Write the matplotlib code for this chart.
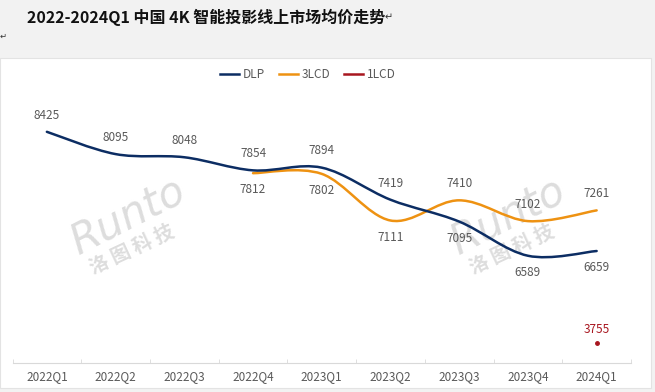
import matplotlib
matplotlib.use("Agg")
import matplotlib.pyplot as plt
from matplotlib.path import Path
from matplotlib.patches import PathPatch, Rectangle
from matplotlib.lines import Line2D

quarters = ["2022Q1", "2022Q2", "2022Q3", "2022Q4", "2023Q1",
            "2023Q2", "2023Q3", "2023Q4", "2024Q1"]
dlp = [8425, 8095, 8048, 7854, 7894, 7419, 7095, 6589, 6659]
lcd3_quarters = quarters[3:]
lcd3 = [7812, 7802, 7111, 7410, 7102, 7261]
lcd1_quarters = ["2024Q1"]
lcd1 = [3755]

# label side: 1 above the line, -1 below
dlp_side = [1, 1, 1, 1, 1, 1, -1, -1, -1]
lcd3_side = [-1, -1, -1, 1, 1, 1]

C_DLP = "#0c2d63"
C_3LCD = "#ee9212"
C_1LCD = "#a8161f"
C_TEXT = "#595959"

plt.rcParams["font.family"] = ["Noto Sans CJK SC", "DejaVu Sans"]


def smooth_path(xs, ys):
    """Excel-like smoothed line as cubic Bezier segments through the points."""
    pts = list(zip(xs, ys))
    verts, codes = [pts[0]], [Path.MOVETO]
    n = len(pts)
    for i in range(n - 1):
        p0, p1 = pts[max(i - 1, 0)], pts[i]
        p2, p3 = pts[i + 1], pts[min(i + 2, n - 1)]
        c1 = (p1[0] + (p2[0] - p0[0]) / 6, p1[1] + (p2[1] - p0[1]) / 6)
        c2 = (p2[0] - (p3[0] - p1[0]) / 6, p2[1] - (p3[1] - p1[1]) / 6)
        verts += [c1, c2, p2]
        codes += [Path.CURVE4] * 3
    return Path(verts, codes)


fig = plt.figure(figsize=(6.55, 3.92), dpi=100, facecolor="#f2f2f2")

# white chart panel
fig.patches.append(Rectangle((0, 4 / 392), 651 / 655, 330 / 392, transform=fig.transFigure,
                             facecolor="white", edgecolor="#e3e3e3", linewidth=0.8, zorder=-5))

fig.text(27 / 655, 1 - 17 / 392, "2022-2024Q1 中国 4K 智能投影线上市场均价走势",
         fontsize=11.5, fontweight="bold", color="#111111", va="center", ha="left",
         family=["Noto Sans CJK SC", "DejaVu Sans"])
fig.text(385 / 655, 1 - 17 / 392, "↵", fontsize=7, color="#333333", va="center",
         family=["DejaVu Sans"])
fig.text(0.0, 1 - 36 / 392, "↵", fontsize=6, color="#333333", va="center",
         family=["DejaVu Sans"])

# watermarks
for x0, y0 in [(128, 222), (508, 222)]:
    fig.text(x0 / 655, 1 - (y0 - 6) / 392, "Runto", fontsize=30, fontstyle="italic",
             color="#dddddd", rotation=27, ha="center", va="center", family=["DejaVu Sans"],
             zorder=-1)
    fig.text((x0 + 4) / 655, 1 - (y0 + 28) / 392, "洛 图 科 技", fontsize=14, fontweight="bold",
             color="#dddddd", rotation=25, ha="center", va="center", zorder=-1)

ax = fig.add_axes([12.5 / 655, 29 / 392, 618.5 / 655, 270 / 392])
ax.set_facecolor("none")
ax2 = ax.twinx()
ax2.set_facecolor("none")

xpos = {q: i for i, q in enumerate(quarters)}

ax.add_patch(PathPatch(smooth_path([xpos[q] for q in quarters], dlp), facecolor="none",
                       edgecolor=C_DLP, linewidth=1.8, capstyle="round", zorder=3))
ax.add_patch(PathPatch(smooth_path([xpos[q] for q in lcd3_quarters], lcd3), facecolor="none",
                       edgecolor=C_3LCD, linewidth=1.8, capstyle="round", zorder=2))
ax2.plot([xpos[q] for q in lcd1_quarters], lcd1, "o", color=C_1LCD, markersize=2.5)

for q, v, s in zip(quarters, dlp, dlp_side):
    ax.annotate(f"{v}", (xpos[q], v), xytext=(0, 12 * s), textcoords="offset points",
                ha="center", va="center", fontsize=8.5, color=C_TEXT)
for q, v, s in zip(lcd3_quarters, lcd3, lcd3_side):
    ax.annotate(f"{v}", (xpos[q], v), xytext=(0, 12 * s), textcoords="offset points",
                ha="center", va="center", fontsize=8.5, color=C_TEXT)
for q, v in zip(lcd1_quarters, lcd1):
    ax2.annotate(f"{v}", (xpos[q], v), xytext=(0, 10), textcoords="offset points",
                 ha="center", va="center", fontsize=8.5, color=C_1LCD)

ax.set_xlim(-0.5, len(quarters) - 0.5)
ax.set_ylim(5000, 9000)
ax2.set_ylim(3500, 7000)

ax.set_xticks(range(len(quarters)))
ax.set_xticklabels(quarters, fontsize=8.5, color=C_TEXT)
ax.set_xticks([i - 0.5 for i in range(len(quarters) + 1)], minor=True)
ax.tick_params(axis="x", which="major", length=0, pad=5)
ax.tick_params(axis="x", which="minor", length=3, direction="in", color="#d9d9d9")
ax.set_yticks([])
ax2.set_yticks([])
for a in (ax, ax2):
    for name, sp in a.spines.items():
        sp.set_visible(name == "bottom" and a is ax)
ax.spines["bottom"].set_color("#d9d9d9")

handles = [Line2D([], [], color=C_DLP, lw=1.8),
           Line2D([], [], color=C_3LCD, lw=1.8),
           Line2D([], [], color=C_1LCD, lw=1.8)]
leg = fig.legend(handles, ["DLP", "3LCD", "1LCD"], loc="center", ncol=3,
                 bbox_to_anchor=(308 / 655, 1 - 75 / 392), frameon=False, fontsize=8.5,
                 handlelength=1.6, handletextpad=0.3, columnspacing=1.2)
for t in leg.get_texts():
    t.set_color(C_TEXT)

fig.savefig("out.png", dpi=100, facecolor=fig.get_facecolor())
